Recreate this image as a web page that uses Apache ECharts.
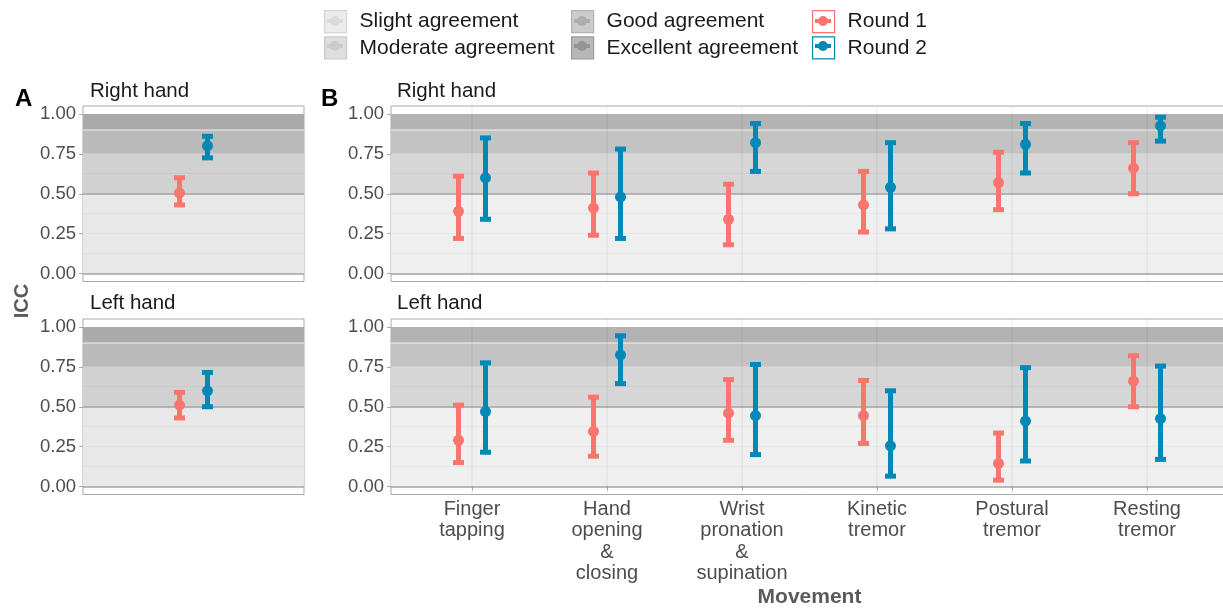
<!DOCTYPE html>
<html><head><meta charset="utf-8">
<script src="https://cdn.jsdelivr.net/npm/echarts@6/dist/echarts.min.js"></script>
<style>html,body{margin:0;padding:0;background:#fff}#chart{width:1223px;height:609px}</style>
</head><body><div id="chart"></div>
<script>
// ---------- DATA ----------
const categories = ['Finger\ntapping', 'Hand\nopening\n&\nclosing', 'Wrist\npronation\n&\nsupination', 'Kinetic\ntremor', 'Postural\ntremor', 'Resting\ntremor'];
const roundNames = ['Round 1', 'Round 2'];
const yTicks = [0, 0.25, 0.5, 0.75, 1];

// Agreement bands
const bandNames = ['Slight agreement', 'Moderate agreement', 'Good agreement', 'Excellent agreement'];
const bandLow = [0, 0.5, 0.75, 0.9];
const bandHigh = [0.5, 0.75, 0.9, 1];

// Panel A (overall), index 0 = Round 1, 1 = Round 2
const aRightIcc = [0.505, 0.80];
const aRightLow = [0.43, 0.725];
const aRightHigh = [0.60, 0.86];
const aLeftIcc = [0.51, 0.60];
const aLeftLow = [0.43, 0.50];
const aLeftHigh = [0.59, 0.715];

// Panel B, Right hand
const r1RightIcc = [0.39, 0.41, 0.34, 0.43, 0.57, 0.66];
const r1RightLow = [0.22, 0.24, 0.18, 0.26, 0.40, 0.50];
const r1RightHigh = [0.61, 0.63, 0.56, 0.64, 0.76, 0.82];
const r2RightIcc = [0.60, 0.48, 0.82, 0.54, 0.81, 0.925];
const r2RightLow = [0.34, 0.22, 0.64, 0.28, 0.63, 0.83];
const r2RightHigh = [0.85, 0.78, 0.94, 0.82, 0.94, 0.98];
// Panel B, Left hand
const r1LeftIcc = [0.29, 0.345, 0.46, 0.445, 0.145, 0.66];
const r1LeftLow = [0.15, 0.19, 0.29, 0.27, 0.04, 0.50];
const r1LeftHigh = [0.51, 0.56, 0.67, 0.665, 0.335, 0.82];
const r2LeftIcc = [0.47, 0.825, 0.445, 0.255, 0.41, 0.425];
const r2LeftLow = [0.215, 0.645, 0.20, 0.065, 0.16, 0.17];
const r2LeftHigh = [0.775, 0.945, 0.765, 0.60, 0.745, 0.755];

// ---------- STYLE ----------
const FONT = '"Liberation Sans", Arial, Helvetica, sans-serif';
const RED = '#F8766D';
const BLUE = '#0088B6';
const BORDER = '#a9a9a9';
const bandColorsA = ['#e8e8e8', '#d1d1d1', '#bababa', '#aaaaaa'];
const bandColorsB = ['#efefef', '#d6d6d6', '#c3c3c3', '#b3b3b3'];
const dodgeA = 0.076, dodgeB = 0.1;

const grids = [
  {left: 83, top: 106, width: 221, height: 175.5},
  {left: 391, top: 106, width: 837, height: 175.5},
  {left: 83, top: 319, width: 221, height: 175.5},
  {left: 391, top: 319, width: 837, height: 175.5}
].map(g => Object.assign(g, {show: true, borderColor: BORDER, borderWidth: 1, backgroundColor: '#fff', outerBoundsMode: 'none', containLabel: false}));

const catIdx = categories.map((c, i) => i + 1);

function xAxisFor(gi, isB, showLabels) {
  const ax = {
    type: 'value', gridIndex: gi, min: 0.4, max: isB ? categories.length + 0.6 : 1.6,
    axisLine: {show: false}, splitLine: {show: false},
    axisTick: {show: false}, axisLabel: {show: false}
  };
  if (showLabels) {
    ax.axisTick = {show: true, customValues: catIdx, length: 4, lineStyle: {color: BORDER, width: 1}};
    ax.axisLabel = {show: true, customValues: catIdx, formatter: v => categories[Math.round(v) - 1] || '',
      fontFamily: FONT, fontSize: 20, color: '#4d4d4d', lineHeight: 21.5, margin: 4, align: 'center', verticalAlign: 'top'};
    ax.name = 'Movement';
    ax.nameLocation = 'middle';
    ax.nameGap = 92;
    ax.nameMoveOverlap = false;
    ax.nameTextStyle = {fontFamily: FONT, fontSize: 21, fontWeight: 'bold', color: '#5a5a5a', lineHeight: 22, verticalAlign: 'top'};
  }
  return ax;
}
function yAxisFor(gi) {
  return {
    type: 'value', gridIndex: gi, min: -0.05, max: 1.05,
    axisLine: {show: false}, splitLine: {show: false},
    axisTick: {show: true, customValues: yTicks, length: 4, lineStyle: {color: BORDER, width: 1}},
    axisLabel: {show: true, customValues: yTicks, formatter: v => v.toFixed(2), fontFamily: FONT, fontSize: 18.5, color: '#4d4d4d', margin: 7}
  };
}

const series = [];
function addBands(gi, colors, isB) {
  bandNames.forEach((name, k) => {
    const s = {
      type: 'custom', name: name, xAxisIndex: gi, yAxisIndex: gi, z: 1, silent: true,
      data: [[bandLow[k], bandHigh[k]]],
      renderItem: (params, api) => {
        const cs = params.coordSys;
        const yLo = api.coord([1, api.value(0)])[1];
        const yHi = api.coord([1, api.value(1)])[1];
        return {type: 'rect', shape: {x: cs.x, y: yHi, width: cs.width, height: yLo - yHi}, style: {fill: colors[k]}};
      },
      itemStyle: {color: colors[k]}
    };
    if (k === bandNames.length - 1) {
      const lines = [];
      [0.125, 0.25, 0.375, 0.625].forEach(v => lines.push({yAxis: v, lineStyle: {color: 'rgba(0,0,0,0.035)', width: 1.2, type: 'solid'}}));
      [0, 0.5].forEach(v => lines.push({yAxis: v, lineStyle: {color: '#a2a2a2', width: 1.5, type: 'solid'}}));
      [0.9].forEach(v => lines.push({yAxis: v, lineStyle: {color: 'rgba(255,255,255,0.55)', width: 1.5, type: 'solid'}}));
      if (isB) catIdx.forEach(v => lines.push({xAxis: v, lineStyle: {color: 'rgba(0,0,0,0.05)', width: 1.5, type: 'solid'}}));
      s.markLine = {silent: true, symbol: 'none', label: {show: false}, animation: false, z: 5, data: lines};
    }
    series.push(s);
  });
}

function errRender(params, api) {
  const x = api.value(0);
  const pm = api.coord([x, api.value(1)]);
  const pl = api.coord([x, api.value(2)]);
  const ph = api.coord([x, api.value(3)]);
  const c = api.visual('color');
  return {type: 'group', children: [
    {type: 'line', shape: {x1: pm[0], y1: pl[1], x2: pm[0], y2: ph[1]}, style: {stroke: c, lineWidth: 5}},
    {type: 'rect', shape: {x: pm[0] - 5.5, y: ph[1] - 2.5, width: 11, height: 5}, style: {fill: c}},
    {type: 'rect', shape: {x: pm[0] - 5.5, y: pl[1] - 2.5, width: 11, height: 5}, style: {fill: c}},
    {type: 'circle', shape: {cx: pm[0], cy: pm[1], r: 5.5}, style: {fill: c}}
  ]};
}
function addErr(gi, name, color, xs, icc, lo, hi) {
  series.push({
    type: 'custom', name: name, xAxisIndex: gi, yAxisIndex: gi, z: 6, silent: true,
    itemStyle: {color: color},
    encode: {x: 0, y: [1, 2, 3]},
    data: icc.map((v, i) => [xs[i], v, lo[i], hi[i]]),
    renderItem: errRender
  });
}

// Panel A
addBands(0, bandColorsA, false);
addBands(2, bandColorsA, false);
addErr(0, roundNames[0], RED, [1 - dodgeA], [aRightIcc[0]], [aRightLow[0]], [aRightHigh[0]]);
addErr(0, roundNames[1], BLUE, [1 + dodgeA], [aRightIcc[1]], [aRightLow[1]], [aRightHigh[1]]);
addErr(2, roundNames[0], RED, [1 - dodgeA], [aLeftIcc[0]], [aLeftLow[0]], [aLeftHigh[0]]);
addErr(2, roundNames[1], BLUE, [1 + dodgeA], [aLeftIcc[1]], [aLeftLow[1]], [aLeftHigh[1]]);
// Panel B
addBands(1, bandColorsB, true);
addBands(3, bandColorsB, true);
const xsR1 = catIdx.map(v => v - dodgeB), xsR2 = catIdx.map(v => v + dodgeB);
addErr(1, roundNames[0], RED, xsR1, r1RightIcc, r1RightLow, r1RightHigh);
addErr(1, roundNames[1], BLUE, xsR2, r2RightIcc, r2RightLow, r2RightHigh);
addErr(3, roundNames[0], RED, xsR1, r1LeftIcc, r1LeftLow, r1LeftHigh);
addErr(3, roundNames[1], BLUE, xsR2, r2LeftIcc, r2LeftLow, r2LeftHigh);

// ---------- LEGEND ----------
const keyFill = ['#ececec', '#dedede', '#cbcbcb', '#b7b7b7', '#ffffff', '#ffffff'];
const keyBorder = ['#d4d4d4', '#cacaca', '#b2b2b2', '#9c9c9c', RED, BLUE];
const keyGlyph = ['#dadada', '#cbcbcb', '#adadad', '#949494', RED, BLUE];
const legendNames = bandNames.slice(0, 2).concat(bandNames.slice(2), roundNames);
const legendCols = [324, 571, 812];
const GLYPH = 'path://M0,3H16V7H0Z M3,5A5,5 0 1 1 13,5A5,5 0 1 1 3,5Z';
const legends = [];
legendCols.forEach((left, col) => {
  const idx = [col * 2, col * 2 + 1];
  const txt = {fontFamily: FONT, fontSize: 21, color: '#1a1a1a', lineHeight: 22, padding: [0, 0, 0, 8]};
  legends.push({
    orient: 'vertical', left: left, top: 10, itemWidth: 22, itemHeight: 22, itemGap: 3, padding: 0,
    selectedMode: false, textStyle: txt,
    data: idx.map(i => ({name: legendNames[i], icon: 'rect', itemStyle: {color: keyFill[i], borderColor: keyBorder[i], borderWidth: 1.2}}))
  });
  legends.push({
    orient: 'vertical', left: left + 3, top: 10, itemWidth: 16, itemHeight: 10, itemGap: 3, padding: 0,
    selectedMode: false, textStyle: Object.assign({}, txt, {color: 'rgba(0,0,0,0)'}),
    data: idx.map(i => ({name: legendNames[i], icon: GLYPH, itemStyle: {color: keyGlyph[i], borderWidth: 0}}))
  });
});

// ---------- TITLES ----------
const facetStyle = {fontFamily: FONT, fontSize: 20.5, fontWeight: 'normal', color: '#1a1a1a', lineHeight: 22};
const tagStyle = {fontFamily: FONT, fontSize: 24, fontWeight: 'bold', color: '#000', lineHeight: 26};
const titles = [
  {text: 'A', left: 15, top: 86, padding: 0, textStyle: tagStyle},
  {text: 'B', left: 321, top: 86, padding: 0, textStyle: tagStyle},
  {text: 'Right hand', left: 90, top: 80, padding: 0, textStyle: facetStyle},
  {text: 'Right hand', left: 397, top: 80, padding: 0, textStyle: facetStyle},
  {text: 'Left hand', left: 90, top: 292, padding: 0, textStyle: facetStyle},
  {text: 'Left hand', left: 397, top: 292, padding: 0, textStyle: facetStyle}
];

const option = {
  animation: false,
  backgroundColor: '#fff',
  title: titles,
  legend: legends,
  grid: grids,
  xAxis: [xAxisFor(0, false, false), xAxisFor(1, true, false), xAxisFor(2, false, false), xAxisFor(3, true, true)],
  yAxis: [yAxisFor(0), yAxisFor(1), yAxisFor(2), yAxisFor(3)],
  graphic: [{
    type: 'text', x: 22, y: 301, rotation: Math.PI / 2,
    style: {text: 'ICC', font: 'bold 20px ' + FONT, fill: '#5a5a5a', textAlign: 'center', textVerticalAlign: 'middle'}
  }],
  series: series
};
const chart = echarts.init(document.getElementById('chart'), null, {renderer: 'canvas'});
chart.setOption(option);
</script></body></html>
